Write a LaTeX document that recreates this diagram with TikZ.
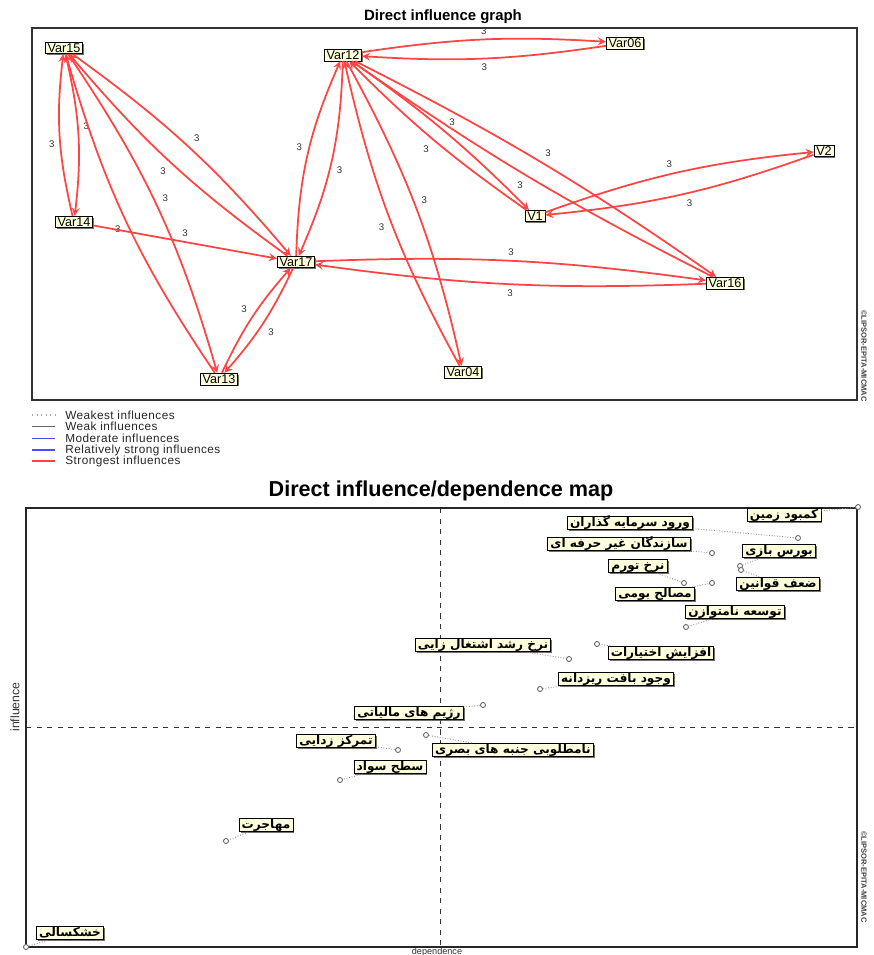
\documentclass[tikz,border=0pt]{standalone}
\usepackage{fontspec}
\setmainfont{Liberation Sans}
\newfontfamily\farsifont[Script=Arabic]{DejaVu Sans}
\TeXXeTstate=1
\usetikzlibrary{shadows}
\definecolor{nodecream}{RGB}{255,255,222}
\definecolor{infred}{RGB}{255,68,68}
\newcommand{\fa}[1]{\beginR #1\endR}

\begin{document}
\begin{tikzpicture}[x=0.02cm, y=-0.02cm]
    \tikzstyle{varbox} = [rectangle, draw, fill=nodecream, font=\fontsize{7.2}{8}\selectfont, inner xsep=1.3pt, inner ysep=0.8pt, drop shadow={shadow xshift=0.8pt, shadow yshift=-0.8pt, fill=black!70, opacity=0.8}]
    \tikzstyle{mapbox} = [varbox, font=\farsifont\bfseries\fontsize{6.9}{8}\selectfont, text height=5.6pt, text depth=1.5pt, inner ysep=0.3pt, inner xsep=1.5pt]
    \tikzstyle{infl} = [line width=1pt, draw=infred, ->, >=stealth]
    \tikzstyle{lbl} = [font=\fontsize{5.5}{6}\selectfont, text=black!80, inner sep=2.5pt]
    \tikzstyle{mappoint} = [circle, draw=black!60, fill=white, line width=0.5pt, inner sep=0pt, minimum size=0.1cm]
    \tikzstyle{leader} = [densely dotted, draw=black!45, line width=0.5pt]
    \tikzstyle{legtext} = [anchor=west, font=\addfontfeature{LetterSpace=4}\fontsize{6.7}{7}\selectfont, text=black!85, inner sep=0pt]

    \useasboundingbox (0,0) rectangle (873,955);

    % Direct influence graph
    \node[font=\fontsize{8.5}{10}\selectfont\bfseries] (graphtitle) at (443,17) {Direct influence graph};
    \draw[black!80, line width=0.6pt] (32,28) rectangle (857,400);
    \node[rotate=-90, font=\fontsize{4.3}{5}\selectfont\bfseries, text=black!75] (mark1) at (864,356) {©LIPSOR-EPITA-MICMAC};

    % variables
    \node[varbox] (var15) at (64,48) {Var15};
    \node[varbox] (var12) at (343,55) {Var12};
    \node[varbox] (var06) at (625,43) {Var06};
    \node[varbox] (v2) at (824,151) {V2};
    \node[varbox] (v1) at (535,216) {V1};
    \node[varbox] (var14) at (74,222) {Var14};
    \node[varbox] (var17) at (296,262) {Var17};
    \node[varbox] (var16) at (725,283) {Var16};
    \node[varbox] (var13) at (219,379) {Var13};
    \node[varbox] (var04) at (463,372) {Var04};

    % strongest influences
    \draw[infl] (var15) to[bend left=10] node[lbl, auto] {3} (var14);
    \draw[infl] (var14) to[bend left=10] node[lbl, auto] {3} (var15);
    \draw[infl] (var15) to[bend left=7] node[lbl, auto] {3} (var17);
    \draw[infl] (var17) to[bend left=7] node[lbl, auto] {3} (var15);
    \draw[infl] (var15) to[bend left=9] node[lbl, auto] {3} (var13);
    \draw[infl] (var13) to[bend left=9] node[lbl, auto] {3} (var15);
    \draw[infl] (var14) to node[lbl, above, pos=0.5] {3} (var17);
    \draw[infl] (var17) to[bend left=8] node[lbl, auto] {3} (var13);
    \draw[infl] (var13) to[bend left=8] node[lbl, auto] {3} (var17);
    \draw[infl] (var12) to[bend left=11] node[lbl, auto] {3} (var17);
    \draw[infl] (var17) to[bend left=11] node[lbl, auto] {3} (var12);
    \draw[infl] (var12) to[bend left=6] node[lbl, auto] {3} (var06);
    \draw[infl] (var06) to[bend left=6] node[lbl, auto] {3} (var12);
    \draw[infl] (var12) to[bend left=8] node[lbl, auto] {3} (var04);
    \draw[infl] (var04) to[bend left=8] node[lbl, auto] {3} (var12);
    \draw[infl] (var12) to[bend left=5] node[lbl, auto] {3} (v1);
    \draw[infl] (v1) to[bend left=5] node[lbl, auto] {3} (var12);
    \draw[infl] (var12) to[bend left=4] node[lbl, auto] {3} (var16);
    \draw[infl] (var16) to[bend left=4] node[lbl, auto] {3} (var12);
    \draw[infl] (v1) to[bend left=7] node[lbl, auto] {3} (v2);
    \draw[infl] (v2) to[bend left=7] node[lbl, auto] {3} (v1);
    \draw[infl] (var17) to[bend left=5] node[lbl, auto] {3} (var16);
    \draw[infl] (var16) to[bend left=5] node[lbl, auto] {3} (var17);

    % legend
    \draw[black!35, dotted, line width=0.6pt] (32,415) -- (55,415);
    \draw[black!60, line width=0.5pt] (32,426) -- (55,426);
    \draw[blue!70, line width=0.5pt] (32,438) -- (55,438);
    \draw[blue!70, line width=1.1pt] (32,450) -- (55,450);
    \draw[infred, line width=1.1pt] (32,461) -- (55,461);
    \node[legtext] (leg1) at (65,415) {Weakest influences};
    \node[legtext] (leg2) at (65,426) {Weak influences};
    \node[legtext] (leg3) at (65,438) {Moderate influences};
    \node[legtext] (leg4) at (65,450) {Relatively strong influences};
    \node[legtext] (leg5) at (65,461) {Strongest influences};

    % Direct influence/dependence map
    \node[font=\fontsize{12.3}{14}\selectfont\bfseries] (maptitle) at (441,491) {Direct influence/dependence map};
    \draw[black!80, dashed, line width=0.5pt] (440,508) -- (440,947);
    \draw[black!80, dashed, line width=0.5pt] (26,727) -- (857,727);
    \draw[black!85, line width=0.9pt] (26,508) rectangle (857,947);
    \node[rotate=90, font=\fontsize{7}{8}\selectfont, text=black!80] (ylabel) at (15,707) {influence};
    \node[anchor=north, inner sep=0pt, font=\fontsize{5.2}{6}\selectfont, text=black!80] (xlabel) at (437,947.3) {dependence};
    \node[rotate=-90, font=\fontsize{4.3}{5}\selectfont\bfseries, text=black!75] (mark2) at (864,877) {©LIPSOR-EPITA-MICMAC};

    % points
    \node[mappoint] (land-pt) at (858,507) {};
    \node[mappoint] (invest-pt) at (798,538) {};
    \node[mappoint] (builders-pt) at (712,553) {};
    \node[mappoint] (spec-pt) at (740,566) {};
    \node[mappoint] (inflation-pt) at (684,583) {};
    \node[mappoint] (laws-pt) at (741,570) {};
    \node[mappoint] (materials-pt) at (712,583) {};
    \node[mappoint] (unbal-pt) at (686,627) {};
    \node[mappoint] (powers-pt) at (597,644) {};
    \node[mappoint] (employ-pt) at (569,659) {};
    \node[mappoint] (fabric-pt) at (540,689) {};
    \node[mappoint] (tax-pt) at (483,705) {};
    \node[mappoint] (visual-pt) at (426,735) {};
    \node[mappoint] (decent-pt) at (398,750) {};
    \node[mappoint] (literacy-pt) at (340,780) {};
    \node[mappoint] (migration-pt) at (226,841) {};
    \node[mappoint] (drought-pt) at (26,947) {};

    % labels
    \node[mapbox] (land) at (784,515) {\fa{کمبود زمین}};
    \node[mapbox] (invest) at (630,523) {\fa{ورود سرمایه گذاران}};
    \node[mapbox] (builders) at (619,544) {\fa{سازندگان غیر حرفه ای}};
    \node[mapbox] (spec) at (779,551) {\fa{بورس بازی}};
    \node[mapbox] (inflation) at (638,566) {\fa{نرخ تورم}};
    \node[mapbox] (laws) at (778,584) {\fa{ضعف قوانین}};
    \node[mapbox] (materials) at (655,594) {\fa{مصالح بومی}};
    \node[mapbox] (unbal) at (735,612) {\fa{توسعه نامتوازن}};
    \node[mapbox] (powers) at (661,653) {\fa{افزایش اختیارات}};
    \node[mapbox] (employ) at (483,645) {\fa{نرخ رشد اشتغال زایی}};
    \node[mapbox] (fabric) at (616,679) {\fa{وجود بافت ریزدانه}};
    \node[mapbox] (tax) at (409,713) {\fa{رژیم های مالیاتی}};
    \node[mapbox] (visual) at (513,750) {\fa{نامطلوبی جنبه های بصری}};
    \node[mapbox] (decent) at (336,741) {\fa{تمرکز زدایی}};
    \node[mapbox] (literacy) at (390,767) {\fa{سطح سواد}};
    \node[mapbox] (migration) at (266,825) {\fa{مهاجرت}};
    \node[mapbox] (drought) at (70,933) {\fa{خشکسالی}};

    % leaders
    \foreach \v/\p in {land/land-pt, invest/invest-pt, builders/builders-pt, spec/spec-pt, inflation/inflation-pt, laws/laws-pt, materials/materials-pt, unbal/unbal-pt, powers/powers-pt, employ/employ-pt, fabric/fabric-pt, tax/tax-pt, visual/visual-pt, decent/decent-pt, literacy/literacy-pt, migration/migration-pt, drought/drought-pt}
        \draw[leader] (\v) -- (\p);
\end{tikzpicture}
\end{document}
